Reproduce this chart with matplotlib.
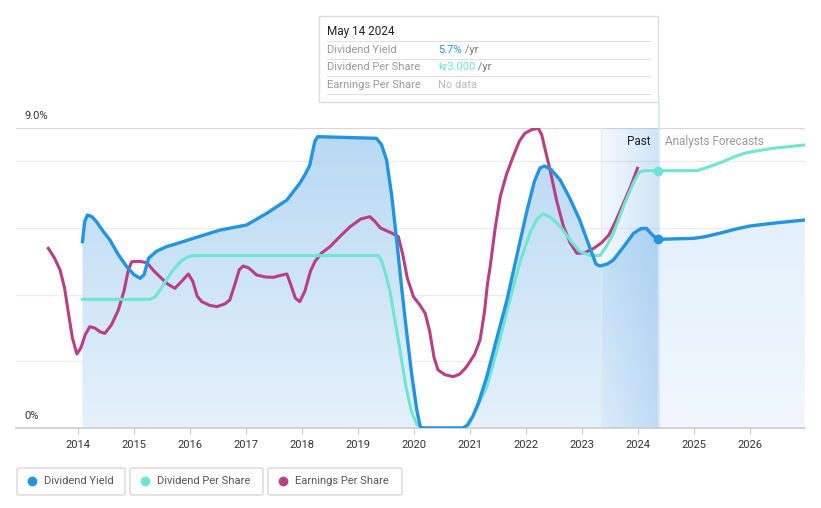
from matplotlib import pyplot as plt
from matplotlib.patches import Polygon, Rectangle, FancyBboxPatch
from matplotlib.lines import Line2D
import numpy as np

plt.rcParams['font.family'] = ['Roboto', 'DejaVu Sans']

# Dividend yield (%), past and forecast
dy_t = [2014.08, 2014.12, 2014.17, 2014.25, 2014.33, 2014.45, 2014.57, 2014.72, 2014.87,
        2015.00, 2015.11, 2015.18, 2015.26, 2015.40, 2015.58, 2015.80, 2016.06, 2016.54,
        2017.01, 2017.37, 2017.73, 2017.96, 2018.07, 2018.14, 2018.19, 2018.23, 2018.28,
        2019.33, 2019.42, 2019.51, 2019.60, 2019.69, 2019.78, 2019.87, 2019.96, 2020.05,
        2020.11, 2020.15, 2020.87, 2020.95, 2021.05, 2021.15, 2021.30, 2021.48, 2021.66,
        2021.84, 2022.02, 2022.15, 2022.25, 2022.33, 2022.45, 2022.61, 2022.78, 2022.96,
        2023.12, 2023.25, 2023.32, 2023.45, 2023.56, 2023.75, 2023.92, 2024.05, 2024.15,
        2024.25, 2024.35]
dy_v = [5.59, 6.20, 6.39, 6.34, 6.19, 5.90, 5.64, 5.20, 4.84,
        4.60, 4.49, 4.60, 5.09, 5.30, 5.44, 5.55, 5.69, 5.94,
        6.09, 6.44, 6.84, 7.34, 7.65, 7.89, 8.30, 8.60, 8.74,
        8.69, 8.50, 8.04, 7.00, 5.64, 4.20, 2.85, 1.60, 0.54,
        0.05, 0.00, 0.00, 0.08, 0.35, 0.75, 1.54, 2.70, 3.84,
        5.20, 6.54, 7.40, 7.80, 7.86, 7.75, 7.44, 6.90, 6.24,
        5.50, 4.92, 4.86, 4.92, 5.04, 5.45, 5.84, 5.98, 5.99,
        5.80, 5.66]
dyf_t = [2024.35, 2025.00, 2025.20, 2025.50, 2025.75, 2026.00, 2026.50, 2026.98]
dyf_v = [5.66, 5.69, 5.74, 5.86, 5.97, 6.06, 6.16, 6.24]

# Dividend per share (kr)
dps_t = [2014.08, 2015.29, 2015.38, 2015.48, 2015.60, 2015.72, 2015.85, 2015.95, 2016.06,
         2019.36, 2019.42, 2019.50, 2019.57, 2019.66, 2019.75, 2019.85, 2019.95, 2020.05,
         2020.14, 2020.91, 2020.98, 2021.10, 2021.30, 2021.50, 2021.71, 2021.90, 2022.07,
         2022.20, 2022.31, 2022.45, 2022.61, 2022.80, 2022.96, 2023.15, 2023.32, 2023.42,
         2023.56, 2023.75, 2023.92, 2024.02, 2024.10, 2024.35]
dps_v = [1.50, 1.50, 1.53, 1.62, 1.75, 1.86, 1.95, 1.99, 2.01,
         2.01, 1.95, 1.78, 1.60, 1.25, 0.91, 0.50, 0.20, 0.04,
         0.00, 0.00, 0.04, 0.20, 0.48, 0.95, 1.49, 1.95, 2.27,
         2.44, 2.50, 2.45, 2.35, 2.18, 2.06, 2.01, 2.01, 2.10,
         2.27, 2.60, 2.86, 2.98, 3.00, 3.00]
dpsf_t = [2024.35, 2025.05, 2025.20, 2025.50, 2025.75, 2025.94, 2026.40, 2026.98]
dpsf_v = [3.00, 3.00, 3.03, 3.10, 3.17, 3.21, 3.26, 3.30]

# Earnings per share (chart units)
eps_t = [2013.47, 2013.58, 2013.68, 2013.76, 2013.83, 2013.90, 2013.98, 2014.05, 2014.13,
         2014.21, 2014.30, 2014.40, 2014.48, 2014.60, 2014.72, 2014.82, 2014.90, 2014.96,
         2015.10, 2015.23, 2015.35, 2015.46, 2015.60, 2015.73, 2015.85, 2015.97, 2016.05,
         2016.13, 2016.21, 2016.35, 2016.48, 2016.62, 2016.71, 2016.80, 2016.88, 2016.95,
         2017.05, 2017.19, 2017.35, 2017.49, 2017.62, 2017.73, 2017.80, 2017.88, 2017.96,
         2018.05, 2018.15, 2018.23, 2018.35, 2018.50, 2018.68, 2018.86, 2019.05, 2019.21,
         2019.30, 2019.40, 2019.48, 2019.60, 2019.72, 2019.80, 2019.88, 2019.99, 2020.10,
         2020.20, 2020.28, 2020.36, 2020.43, 2020.55, 2020.70, 2020.82, 2020.94, 2021.08,
         2021.18, 2021.26, 2021.31, 2021.36, 2021.45, 2021.54, 2021.65, 2021.77, 2021.88,
         2021.98, 2022.10, 2022.22, 2022.28, 2022.35, 2022.43, 2022.55, 2022.67, 2022.79,
         2022.91, 2023.05, 2023.21, 2023.35, 2023.48, 2023.60, 2023.74, 2023.87, 2023.99]
eps_v = [5.39, 5.10, 4.74, 4.20, 3.44, 2.70, 2.22, 2.40, 2.80,
         3.04, 3.00, 2.88, 2.84, 3.10, 3.54, 4.10, 4.75, 4.99,
         5.00, 4.96, 4.72, 4.54, 4.32, 4.19, 4.40, 4.62, 4.40,
         3.95, 3.79, 3.68, 3.64, 3.72, 3.84, 4.30, 4.75, 4.86,
         4.80, 4.59, 4.53, 4.52, 4.58, 4.62, 4.30, 3.90, 3.79,
         4.10, 4.70, 4.99, 5.25, 5.44, 5.75, 6.04, 6.27, 6.34,
         6.20, 6.00, 5.94, 5.85, 5.74, 5.20, 4.50, 3.94, 3.70,
         3.44, 2.90, 2.10, 1.74, 1.60, 1.54, 1.62, 1.84, 2.20,
         2.64, 3.50, 4.30, 4.84, 6.00, 6.94, 7.60, 8.14, 8.60,
         8.84, 8.95, 8.99, 8.80, 8.30, 7.74, 6.80, 6.04, 5.55,
         5.24, 5.26, 5.39, 5.56, 5.79, 6.20, 6.74, 7.25, 7.79]

years = list(range(2014, 2027))
DPS_SCALE = 7.72 / 3.0   # kr -> chart units

BLUE = '#2394df'
TEAL = '#6ee6d3'
MAG = '#b83f83'

W, H = 821, 508
fig = plt.figure(figsize=(W / 100, H / 100), dpi=100)

def fx(px):
    return px / W

def fy(py):
    return 1 - py / H

ax = fig.add_axes([fx(16), fy(428), fx(805) - fx(16), fy(128) - fy(428)])
x0 = 2014 + (16 - 78) / 56
x1 = 2014 + (805 - 78) / 56
ax.set_xlim(x0, x1)
ax.set_ylim(0, 9)

for g in [2, 4, 6, 8]:
    ax.axhline(g, color='#ececec', lw=0.9, zorder=0)
ax.axhline(9, color='#d8d8d8', lw=0.9, zorder=0)

for s in ax.spines.values():
    s.set_visible(False)
ax.axhline(0, color='#cccccc', lw=1.2, zorder=5, clip_on=False)
ax.set_yticks([])
ax.set_xticks(years)
ax.set_xticklabels([str(y) for y in years], fontsize=8, color='#333333')
ax.tick_params(axis='x', length=4, color='#cccccc', pad=5)

# gradient fill under past dividend yield
grad = np.zeros((100, 2, 4))
top = np.array([180, 215, 243]) / 255
bot = np.array([228, 241, 251]) / 255
for i in range(100):
    f = i / 99
    grad[i, :, :3] = top * (1 - f) + bot * f
    grad[i, :, 3] = 0.95
poly = Polygon(list(zip(dy_t, dy_v)) + [(dy_t[-1], 0), (dy_t[0], 0)], closed=True,
               facecolor='none', edgecolor='none')
ax.add_patch(poly)
im = ax.imshow(grad, extent=[dy_t[0], dy_t[-1], 0, 9], aspect='auto', zorder=1,
               origin='upper', interpolation='bilinear')
im.set_clip_path(poly)

# forecast fill
gradf = np.zeros((100, 2, 4))
topf = np.array([222, 238, 250]) / 255
botf = np.array([241, 247, 253]) / 255
for i in range(100):
    f = i / 99
    gradf[i, :, :3] = topf * (1 - f) + botf * f
    gradf[i, :, 3] = 1.0
polyf = Polygon(list(zip(dyf_t, dyf_v)) + [(dyf_t[-1], 0), (dyf_t[0], 0)], closed=True,
                facecolor='none', edgecolor='none')
ax.add_patch(polyf)
imf = ax.imshow(gradf, extent=[dyf_t[0], dyf_t[-1], 0, 9], aspect='auto', zorder=1,
                origin='upper', interpolation='bilinear')
imf.set_clip_path(polyf)

# past band with horizontal gradient
band_l = 2014 + (601 - 78) / 56
band_r = 2024.37
hb = np.zeros((2, 100, 4))
hb[:, :, 0] = 120 / 255
hb[:, :, 1] = 180 / 255
hb[:, :, 2] = 235 / 255
hb[:, :, 3] = np.linspace(0.08, 0.35, 100)
ax.imshow(hb, extent=[band_l, band_r, 0, 9], aspect='auto', zorder=2, interpolation='bilinear')
ax.axvline(band_l, color='#dcebf8', lw=0.8, zorder=2)
ax.plot([band_r, band_r], [0, 9 + (128 - 102) / 33.33], color='#d4e8f8', lw=1.2,
        zorder=2, clip_on=False)

# lines
ax.plot(eps_t, eps_v, color=MAG, lw=2.2, zorder=4, solid_joinstyle='round')
ax.plot(dps_t, [v * DPS_SCALE for v in dps_v], color=TEAL, lw=2.2, zorder=4, solid_joinstyle='round')
ax.plot(dpsf_t, [v * DPS_SCALE for v in dpsf_v], color=TEAL, lw=2.2, zorder=4, solid_joinstyle='round')
ax.plot(dy_t, dy_v, color=BLUE, lw=2.4, zorder=5, solid_joinstyle='round')
ax.plot(dyf_t, dyf_v, color=BLUE, lw=2.4, zorder=5, solid_joinstyle='round')
ax.plot([dy_t[-1]], [dy_v[-1]], 'o', color=BLUE, ms=6, zorder=6)
ax.plot([dps_t[-1]], [dps_v[-1] * DPS_SCALE], 'o', color=TEAL, ms=6, zorder=6)

ax.text(band_r - 0.15, 8.6, 'Past', ha='right', va='center', fontsize=8.5, color='#222222', zorder=7)
ax.text(band_r + 0.12, 8.6, 'Analysts Forecasts', ha='left', va='center', fontsize=8.5,
        color='#999999', zorder=7)

fig.text(fx(24), fy(116), '9.0%', fontsize=8, color='#333333', va='center')
fig.text(fx(24), fy(416), '0%', fontsize=8, color='#333333', va='center')

# tooltip
fig.add_artist(Rectangle((fx(319), fy(102)), fx(658) - fx(319), fy(16) - fy(102),
                         transform=fig.transFigure, facecolor='white', edgecolor='#dddddd', lw=1))
fig.text(fx(327), fy(31), 'May 14 2024', fontsize=8.5, color='#222222', va='center')
for ly in [41, 59, 76, 94]:
    fig.add_artist(Line2D([fx(327), fx(650)], [fy(ly), fy(ly)], transform=fig.transFigure,
                          color='#e0e0e0', lw=0.8))
rows = [('Dividend Yield', '5.7%', BLUE, ' /yr'),
        ('Dividend Per Share', 'kr3.000', TEAL, ' /yr'),
        ('Earnings Per Share', 'No data', '#bbbbbb', '')]
for i, (lab, val, col, suf) in enumerate(rows):
    yy = fy(50 + i * 17.5)
    fig.text(fx(327), yy, lab, fontsize=8, color='#999999', va='center')
    t = fig.text(fx(438), yy, val, fontsize=8, color=col, va='center')
    if suf:
        fig.canvas.draw()
        bb = t.get_window_extent()
        fig.text(bb.x1 / W, yy, suf, fontsize=8, color='#777777', va='center')

# legend boxes
legend = [('Dividend Yield', BLUE, 17, 125), ('Dividend Per Share', TEAL, 130, 263),
          ('Earnings Per Share', MAG, 268, 402)]
for lab, col, l, r in legend:
    fig.add_artist(FancyBboxPatch((fx(l), fy(495)), fx(r) - fx(l), fy(468) - fy(495),
                                  boxstyle='round,pad=0,rounding_size=0.003',
                                  transform=fig.transFigure, facecolor='white',
                                  edgecolor='#d9d9d9', lw=1))
    fig.add_artist(Line2D([fx(l + 15)], [fy(481)], marker='o', color=col, ms=6,
                          transform=fig.transFigure))
    fig.text(fx(l + 27), fy(481), lab, fontsize=8, color='#555555', va='center')

fig.savefig('out.png', dpi=100)
